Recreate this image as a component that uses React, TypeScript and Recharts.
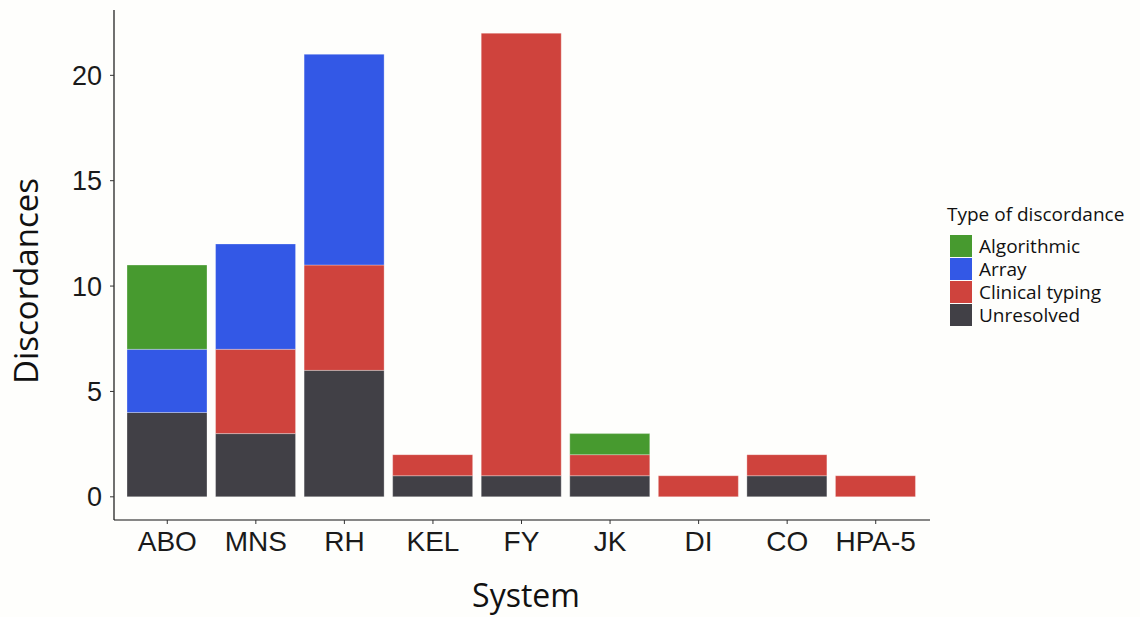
import React from 'react';
import { BarChart, Bar, XAxis, YAxis, Legend } from 'recharts';

// Discordances per blood group system, split by how each was explained
const systems = ['ABO', 'MNS', 'RH', 'KEL', 'FY', 'JK', 'DI', 'CO', 'HPA-5'];
const unresolved = [4, 3, 6, 1, 1, 1, 0, 1, 0];
const clinicalTyping = [0, 4, 5, 1, 21, 1, 1, 1, 1];
const arrayCalls = [3, 5, 10, 0, 0, 0, 0, 0, 0];
const algorithmic = [4, 0, 0, 0, 0, 1, 0, 0, 0];
const yTicks = [0, 5, 10, 15, 20];

// stack order bottom -> top
const series = [
  { key: 'unresolved', label: 'Unresolved', color: '#414046', values: unresolved },
  { key: 'clinical', label: 'Clinical typing', color: '#CF433D', values: clinicalTyping },
  { key: 'array', label: 'Array', color: '#3358E6', values: arrayCalls },
  { key: 'algorithmic', label: 'Algorithmic', color: '#479A2F', values: algorithmic },
];

const data = systems.map((name, i) => {
  const row: Record<string, string | number | null> = { name };
  series.forEach((s) => {
    row[s.key] = s.values[i] || null;
  });
  return row;
});

const TITLE_FONT = '"Open Sans", "Noto Sans", sans-serif';
const TICK_FONT = '"Liberation Sans", Arial, sans-serif';

const YTitle = () => (
  <text
    x={38}
    y={281}
    transform="rotate(-90 38 281)"
    textAnchor="middle"
    fontFamily={TITLE_FONT}
    fontSize={33}
    fill="#111"
  >
    Discordances
  </text>
);

const XTitle = () => (
  <text x={526} y={607} textAnchor="middle" fontFamily={TITLE_FONT} fontSize={32} fill="#111">
    System
  </text>
);

const LegendBox = () => (
  <div style={{ fontFamily: TITLE_FONT, color: '#111' }}>
    <div style={{ fontSize: 19, lineHeight: '22px', marginBottom: 9 }}>Type of discordance</div>
    {[...series].reverse().map((s) => (
      <div key={s.key} style={{ display: 'flex', alignItems: 'center', height: 23 }}>
        <span
          style={{ width: 22, height: 22, background: s.color, display: 'inline-block', marginLeft: 3, marginRight: 7 }}
        />
        <span style={{ fontSize: 19, lineHeight: '20px' }}>{s.label}</span>
      </div>
    ))}
  </div>
);

export default function App() {
  return (
    <div style={{ width: 1140, height: 617, background: '#fefefc' }}>
      <style>{`body { margin: 0; }`}</style>
      <BarChart
        width={1140}
        height={617}
        data={data}
        margin={{ top: 10, right: 210, left: 0, bottom: 0 }}
        barSize={80}
      >
        <XAxis
          dataKey="name"
          height={97}
          padding={{ left: 9, right: 10 }}
          tickLine={{ stroke: '#333' }}
          tickSize={4}
          tickMargin={7}
          axisLine={{ stroke: '#111', strokeWidth: 1.2 }}
          tick={{ fontFamily: TICK_FONT, fontSize: 28, fill: '#1a1a1a' }}
          label={<XTitle />}
        />
        <YAxis
          width={114}
          domain={[-1.1, 23.1]}
          allowDataOverflow
          ticks={yTicks}
          tickLine={{ stroke: '#333' }}
          tickSize={4}
          tickMargin={8}
          axisLine={{ stroke: '#111', strokeWidth: 1.2 }}
          tick={{ fontFamily: TICK_FONT, fontSize: 27, fill: '#1a1a1a' }}
          label={<YTitle />}
        />
        <Legend
          verticalAlign="middle"
          align="center"
          layout="vertical"
          wrapperStyle={{ left: 947, top: 203, width: 193 }}
          content={<LegendBox />}
        />
        {series.map((s) => (
          <Bar
            key={s.key}
            dataKey={s.key}
            name={s.label}
            stackId="d"
            fill={s.color}
            stroke="#ffffff"
            strokeOpacity={0.5}
            strokeWidth={0.6}
            isAnimationActive={false}
          />
        ))}
      </BarChart>
    </div>
  );
}
